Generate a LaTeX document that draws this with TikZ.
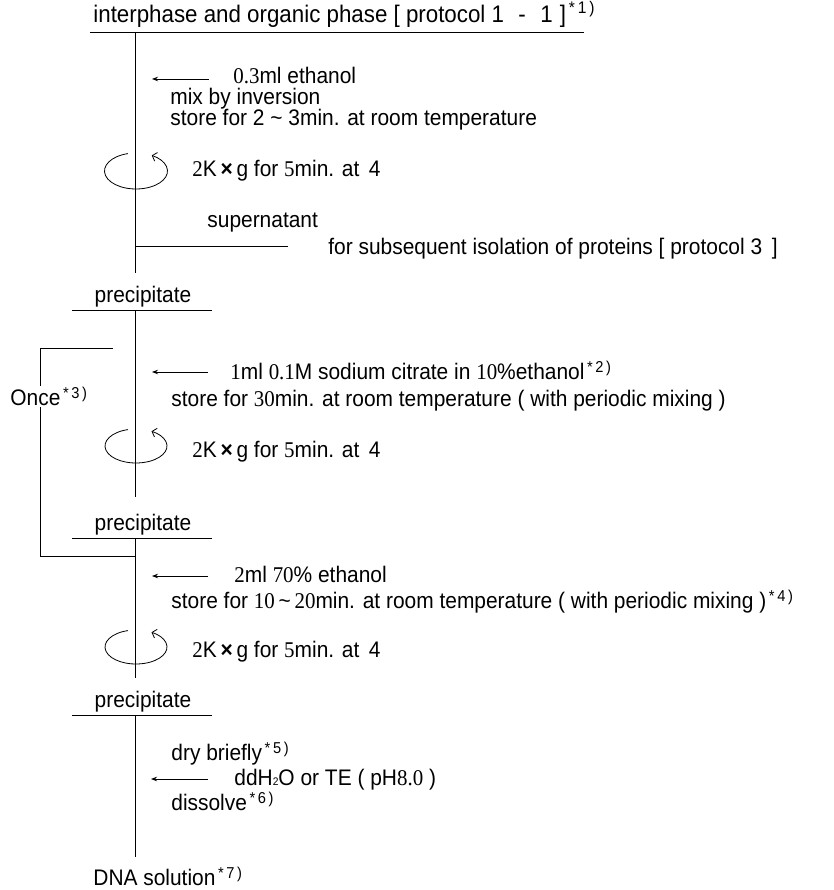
\documentclass[tikz,border=0pt]{standalone}
\usepackage{fontspec}
\setmainfont{Liberation Sans}[FakeStretch=0.93]
\newfontfamily\serifnum{Liberation Serif}[FakeStretch=0.93]
\usetikzlibrary{arrows.meta}
\usetikzlibrary{positioning}
\newcommand{\sn}[1]{{\serifnum #1}}
\newcommand{\fnote}[1]{\textsuperscript{\,*\,#1\,)}}
\newcommand{\spinmark}{\textbf{×}}
\newcommand{\smallsub}[1]{{\fontsize{11}{11}\selectfont #1}}

\begin{document}
\begin{tikzpicture}[x=1pt,y=-1pt,line width=0.8pt,
		font=\fontsize{22.5}{26}\selectfont,
		txt/.style={anchor=mid west, inner sep=0pt, yshift=-3pt},
		addin/.style={-{Stealth[length=6pt,width=4.5pt]}},
		spin/.style={-{Straight Barb[length=4pt,width=9pt]}}]
				\useasboundingbox (0,0) rectangle (833,890);
				% step 1: ethanol
				\node[txt, font=\fontsize{24}{26}\selectfont] (hdr) at (93,17) {interphase and organic phase [ protocol 1\hspace{0.6em}-\hspace{0.6em}1\hspace{0.3em}]\fnote{1}};
				\coordinate (ul1a) at (90,32);
				\coordinate (ul1b) at (584,32);
				\draw (ul1a) -- (ul1b);
				\coordinate (top1) at (135,32);
				\coordinate (bot1) at (135,273);
				\draw (top1) -- (bot1);
				\node[txt] (eth1) at (233,78) {\sn{0.3}ml ethanol};
				\coordinate (in1) at (152,79);
				\draw[addin] ([xshift=-24pt]eth1.west |- in1) -- (in1);
				\node[txt] (mix1) at (170,99) {mix by inversion};
				\node[txt] (store1) at (170,120) {store for 2 \textasciitilde\ 3min. at room temperature};
				\coordinate (c1) at (136,171);
				\draw[spin] (c1) ++(255:31.5 and 18) arc[start angle=255, end angle=-60, x radius=31.5, y radius=18];
				\node[txt] (spin1) at (192,171) {\sn{2}K\,\spinmark\,g for \sn{5}min. at \,4};
				\node[txt] (sup) at (207,222) {supernatant};
				\coordinate (br1) at (135,246);
				\coordinate (br2) at (288,246);
				\draw (br1) -- (br2);
				\node[txt] (prot) at (328,249) {for subsequent isolation of proteins [ protocol 3 \,]};
				
				% step 2: sodium citrate wash
				\node (prec1) at (143,297) {precipitate};
				\coordinate (ul2a) at (72,310);
				\coordinate (ul2b) at (212,310);
				\draw (ul2a) -- (ul2b);
				\coordinate (top2) at (135,310);
				\coordinate (bot2) at (135,497);
				\draw (top2) -- (bot2);
				\coordinate (ret1) at (113,348);
				\coordinate (ret2) at (40,348);
				\coordinate (ret3) at (40,556);
				\coordinate (ret4) at (135,556);
				\draw (ret1) -- (ret2) -- (ret3) -- (ret4);
				\node[txt, fill=white, inner sep=1pt] (once) at (9,400) {Once\fnote{3}};
				\node[txt] (cit) at (230,374) {\sn{1}ml \sn{0.1}M sodium citrate in \sn{10}\%ethanol\fnote{2}};
				\coordinate (in2) at (152,372);
				\draw[addin] ([xshift=-22pt]cit.west |- in2) -- (in2);
				\node[txt] (store2) at (171,401) {store for \sn{30}min. at room temperature ( with periodic mixing )};
				\coordinate (c2) at (136,446);
				\draw[spin] (c2) ++(255:31 and 17) arc[start angle=255, end angle=-60, x radius=31, y radius=17];
				\node[txt] (spin2) at (192,452) {\sn{2}K\,\spinmark\,g for \sn{5}min. at \,4};
				
				% step 3: ethanol wash
				\node (prec2) at (143,525) {precipitate};
				\coordinate (ul3a) at (72,538);
				\coordinate (ul3b) at (212,538);
				\draw (ul3a) -- (ul3b);
				\coordinate (top3) at (135,538);
				\coordinate (bot3) at (135,678);
				\draw (top3) -- (bot3);
				\node[txt] (eth2) at (234,577) {\sn{2}ml \sn{70}\% ethanol};
				\coordinate (in3) at (152,576);
				\draw[addin] ([xshift=-26pt]eth2.west |- in3) -- (in3);
				\node[txt] (store3) at (171,603) {store for \sn{10}\,\textasciitilde\,\sn{20}min. at room temperature ( with periodic mixing )\fnote{4}};
				\coordinate (c3) at (136,647);
				\draw[spin] (c3) ++(255:31 and 17) arc[start angle=255, end angle=-60, x radius=31, y radius=17];
				\node[txt] (spin3) at (192,652) {\sn{2}K\,\spinmark\,g for \sn{5}min. at \,4};
				
				% step 4: dissolve
				\node (prec3) at (143,702) {precipitate};
				\coordinate (ul4a) at (72,715);
				\coordinate (ul4b) at (212,715);
				\draw (ul4a) -- (ul4b);
				\coordinate (top4) at (135,715);
				\coordinate (bot4) at (135,857);
				\draw (top4) -- (bot4);
				\node[txt] (dry) at (171,755) {dry briefly\fnote{5}};
				\node[txt] (water) at (234,780) {ddH\smallsub{2}O or TE ( pH\sn{8.0} )};
				\coordinate (in4) at (151,779);
				\draw[addin] ([xshift=-26pt]water.west |- in4) -- (in4);
				\node[txt] (diss) at (171,805) {dissolve\fnote{6}};
				\node[txt] (dna) at (93,880) {DNA solution\fnote{7}};
			\end{tikzpicture}
\end{document}
